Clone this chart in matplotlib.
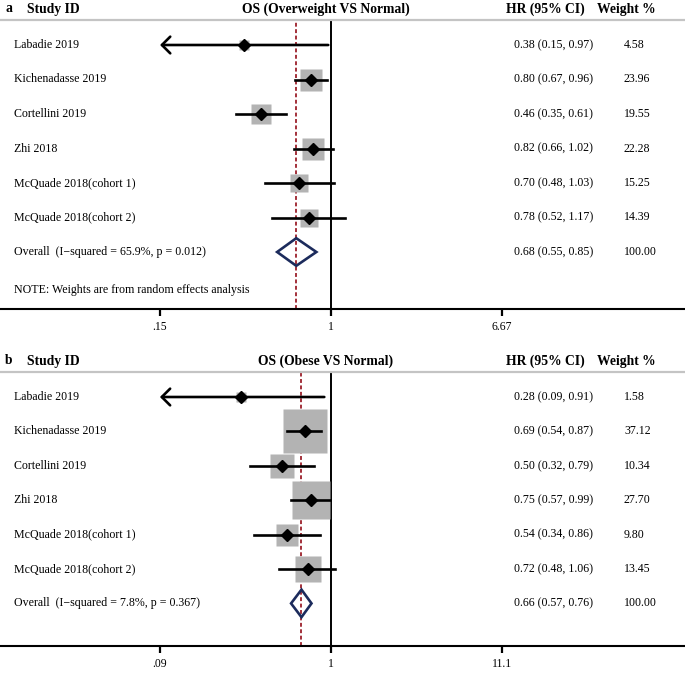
import numpy as np
import matplotlib
matplotlib.use("Agg")
import matplotlib.pyplot as plt
from matplotlib.patches import Polygon
from matplotlib.ticker import NullLocator
import matplotlib.transforms as mtransforms

plt.rcParams["font.family"] = ["Liberation Serif", "DejaVu Serif"]

studies = ["Labadie 2019", "Kichenadasse 2019", "Cortellini 2019", "Zhi 2018",
           "McQuade 2018(cohort 1)", "McQuade 2018(cohort 2)"]

# panel a: overweight vs normal
a_hr = [0.38, 0.80, 0.46, 0.82, 0.70, 0.78]
a_lo = [0.15, 0.67, 0.35, 0.66, 0.48, 0.52]
a_hi = [0.97, 0.96, 0.61, 1.02, 1.03, 1.17]
a_w = [4.58, 23.96, 19.55, 22.28, 15.25, 14.39]
a_overall = [0.68, 0.55, 0.85]
a_i2, a_p = "65.9%", "0.012"
a_ticks = [0.15, 1, 6.67]
a_ticklabels = [".15", "1", "6.67"]

# panel b: obese vs normal
b_hr = [0.28, 0.69, 0.50, 0.75, 0.54, 0.72]
b_lo = [0.09, 0.54, 0.32, 0.57, 0.34, 0.48]
b_hi = [0.91, 0.87, 0.79, 0.99, 0.86, 1.06]
b_w = [1.58, 37.12, 10.34, 27.70, 9.80, 13.45]
b_overall = [0.66, 0.57, 0.76]
b_i2, b_p = "7.8%", "0.367"
b_ticks = [0.09, 1, 11.1]
b_ticklabels = [".09", "1", "11.1"]

W, H = 685, 674
fig = plt.figure(figsize=(W / 100, H / 100), dpi=100)

GRAY_BOX = "#b3b3b3"
NAVY = "#1c2b5c"
RED = "#a3303a"
FS = 8.6


def panel(letter, title, hr, lo, hi, w, overall, i2, p, ticks, ticklabels,
          top_px, bot_px, row0_px, step_px, box_k, note=False):
    ax = fig.add_axes([0, 1 - bot_px / H, 1, (bot_px - top_px) / H])
    # x scale: px = 331 + k * ln(x), k chosen so end ticks sit ~170 px from 1
    k = 171 / np.log(ticks[-1])
    ax.set_xscale("log")
    ax.set_xlim(np.exp(-331 / k), np.exp((W - 331) / k))
    ax.set_ylim((bot_px - row0_px) / step_px, -(row0_px - top_px) / step_px)

    n = len(studies)
    ys = np.arange(n)
    sizes_pt = box_k * np.sqrt(np.array(w)) / (100 / 72)
    for y, h, l, u, s in zip(ys, hr, lo, hi, sizes_pt):
        ax.plot([h], [y], marker="s", ms=s, color=GRAY_BOX, mec="none", zorder=2)
        if l <= ticks[0]:
            ax.annotate("", xy=(l, y), xytext=(u, y),
                        arrowprops=dict(arrowstyle="->,head_length=0.6,head_width=0.6",
                                        lw=1.9, color="black", shrinkA=0, shrinkB=0,
                                        mutation_scale=10), zorder=3)
        else:
            ax.plot([l, u], [y, y], color="black", lw=1.9, zorder=3)
        ax.plot([h], [y], marker="D", ms=6.3, color="black", zorder=4)

    est, olo, ohi = overall
    yo = n
    dh = 0.4
    ax.add_patch(Polygon([(olo, yo), (est, yo - dh), (ohi, yo), (est, yo + dh)],
                         closed=True, fill=False, edgecolor=NAVY, lw=1.9, zorder=4))

    ax.axvline(1, color="black", lw=1.4, zorder=1)
    ax.axvline(est, color=RED, lw=1.4, ls=(0, (2, 1.3)), zorder=1)

    for side in ["left", "right"]:
        ax.spines[side].set_visible(False)
    ax.spines["top"].set_color("#c4c4c4")
    ax.spines["top"].set_linewidth(1.6)
    ax.spines["bottom"].set_linewidth(1.5)
    ax.set_yticks([])
    ax.set_xticks(ticks)
    ax.set_xticklabels(ticklabels)
    ax.xaxis.set_minor_locator(NullLocator())
    ax.tick_params(axis="x", direction="out", length=4.8, width=1.6, labelsize=8.4, pad=4)

    tr = mtransforms.blended_transform_factory(ax.transAxes, ax.transData)
    labels = studies + ["Overall  (I\u2212squared = %s, p = %s)" % (i2, p)]
    hr_txt = ["%.2f (%.2f, %.2f)" % t for t in zip(hr, lo, hi)] + \
             ["%.2f (%.2f, %.2f)" % (est, olo, ohi)]
    w_txt = ["%.2f" % v for v in w] + ["100.00"]
    for y, (lab, ht, wt) in enumerate(zip(labels, hr_txt, w_txt)):
        ax.text(14 / W, y, lab, transform=tr, va="center", ha="left", fontsize=FS)
        ax.text(514 / W, y, ht, transform=tr, va="center", ha="left", fontsize=FS)
        ax.text(624 / W, y, wt, transform=tr, va="center", ha="left", fontsize=FS)
    if note:
        ax.text(14 / W, (290 - row0_px) / step_px, "NOTE: Weights are from random effects analysis",
                transform=tr, va="center", ha="left", fontsize=FS)

    hy = 1 - (top_px - 11) / H
    fig.text(5 / W, hy, letter, fontsize=9.8, fontweight="bold", va="center", ha="left")
    fig.text(27 / W, hy, "Study ID", fontsize=9.8, fontweight="bold", va="center", ha="left")
    fig.text(326 / W, hy, title, fontsize=9.8, fontweight="bold", va="center", ha="center")
    fig.text(506 / W, hy, "HR (95% CI)", fontsize=9.8, fontweight="bold", va="center", ha="left")
    fig.text(597 / W, hy, "Weight %", fontsize=9.8, fontweight="bold", va="center", ha="left")
    return ax


panel("a", "OS (Overweight VS Normal)", a_hr, a_lo, a_hi, a_w, a_overall, a_i2, a_p,
      a_ticks, a_ticklabels, top_px=20, bot_px=309, row0_px=45, step_px=34.5,
      box_k=4.49, note=True)
panel("b", "OS (Obese VS Normal)", b_hr, b_lo, b_hi, b_w, b_overall, b_i2, b_p,
      b_ticks, b_ticklabels, top_px=372, bot_px=646, row0_px=397, step_px=34.4,
      box_k=7.22)

fig.savefig("out.png", dpi=100)
